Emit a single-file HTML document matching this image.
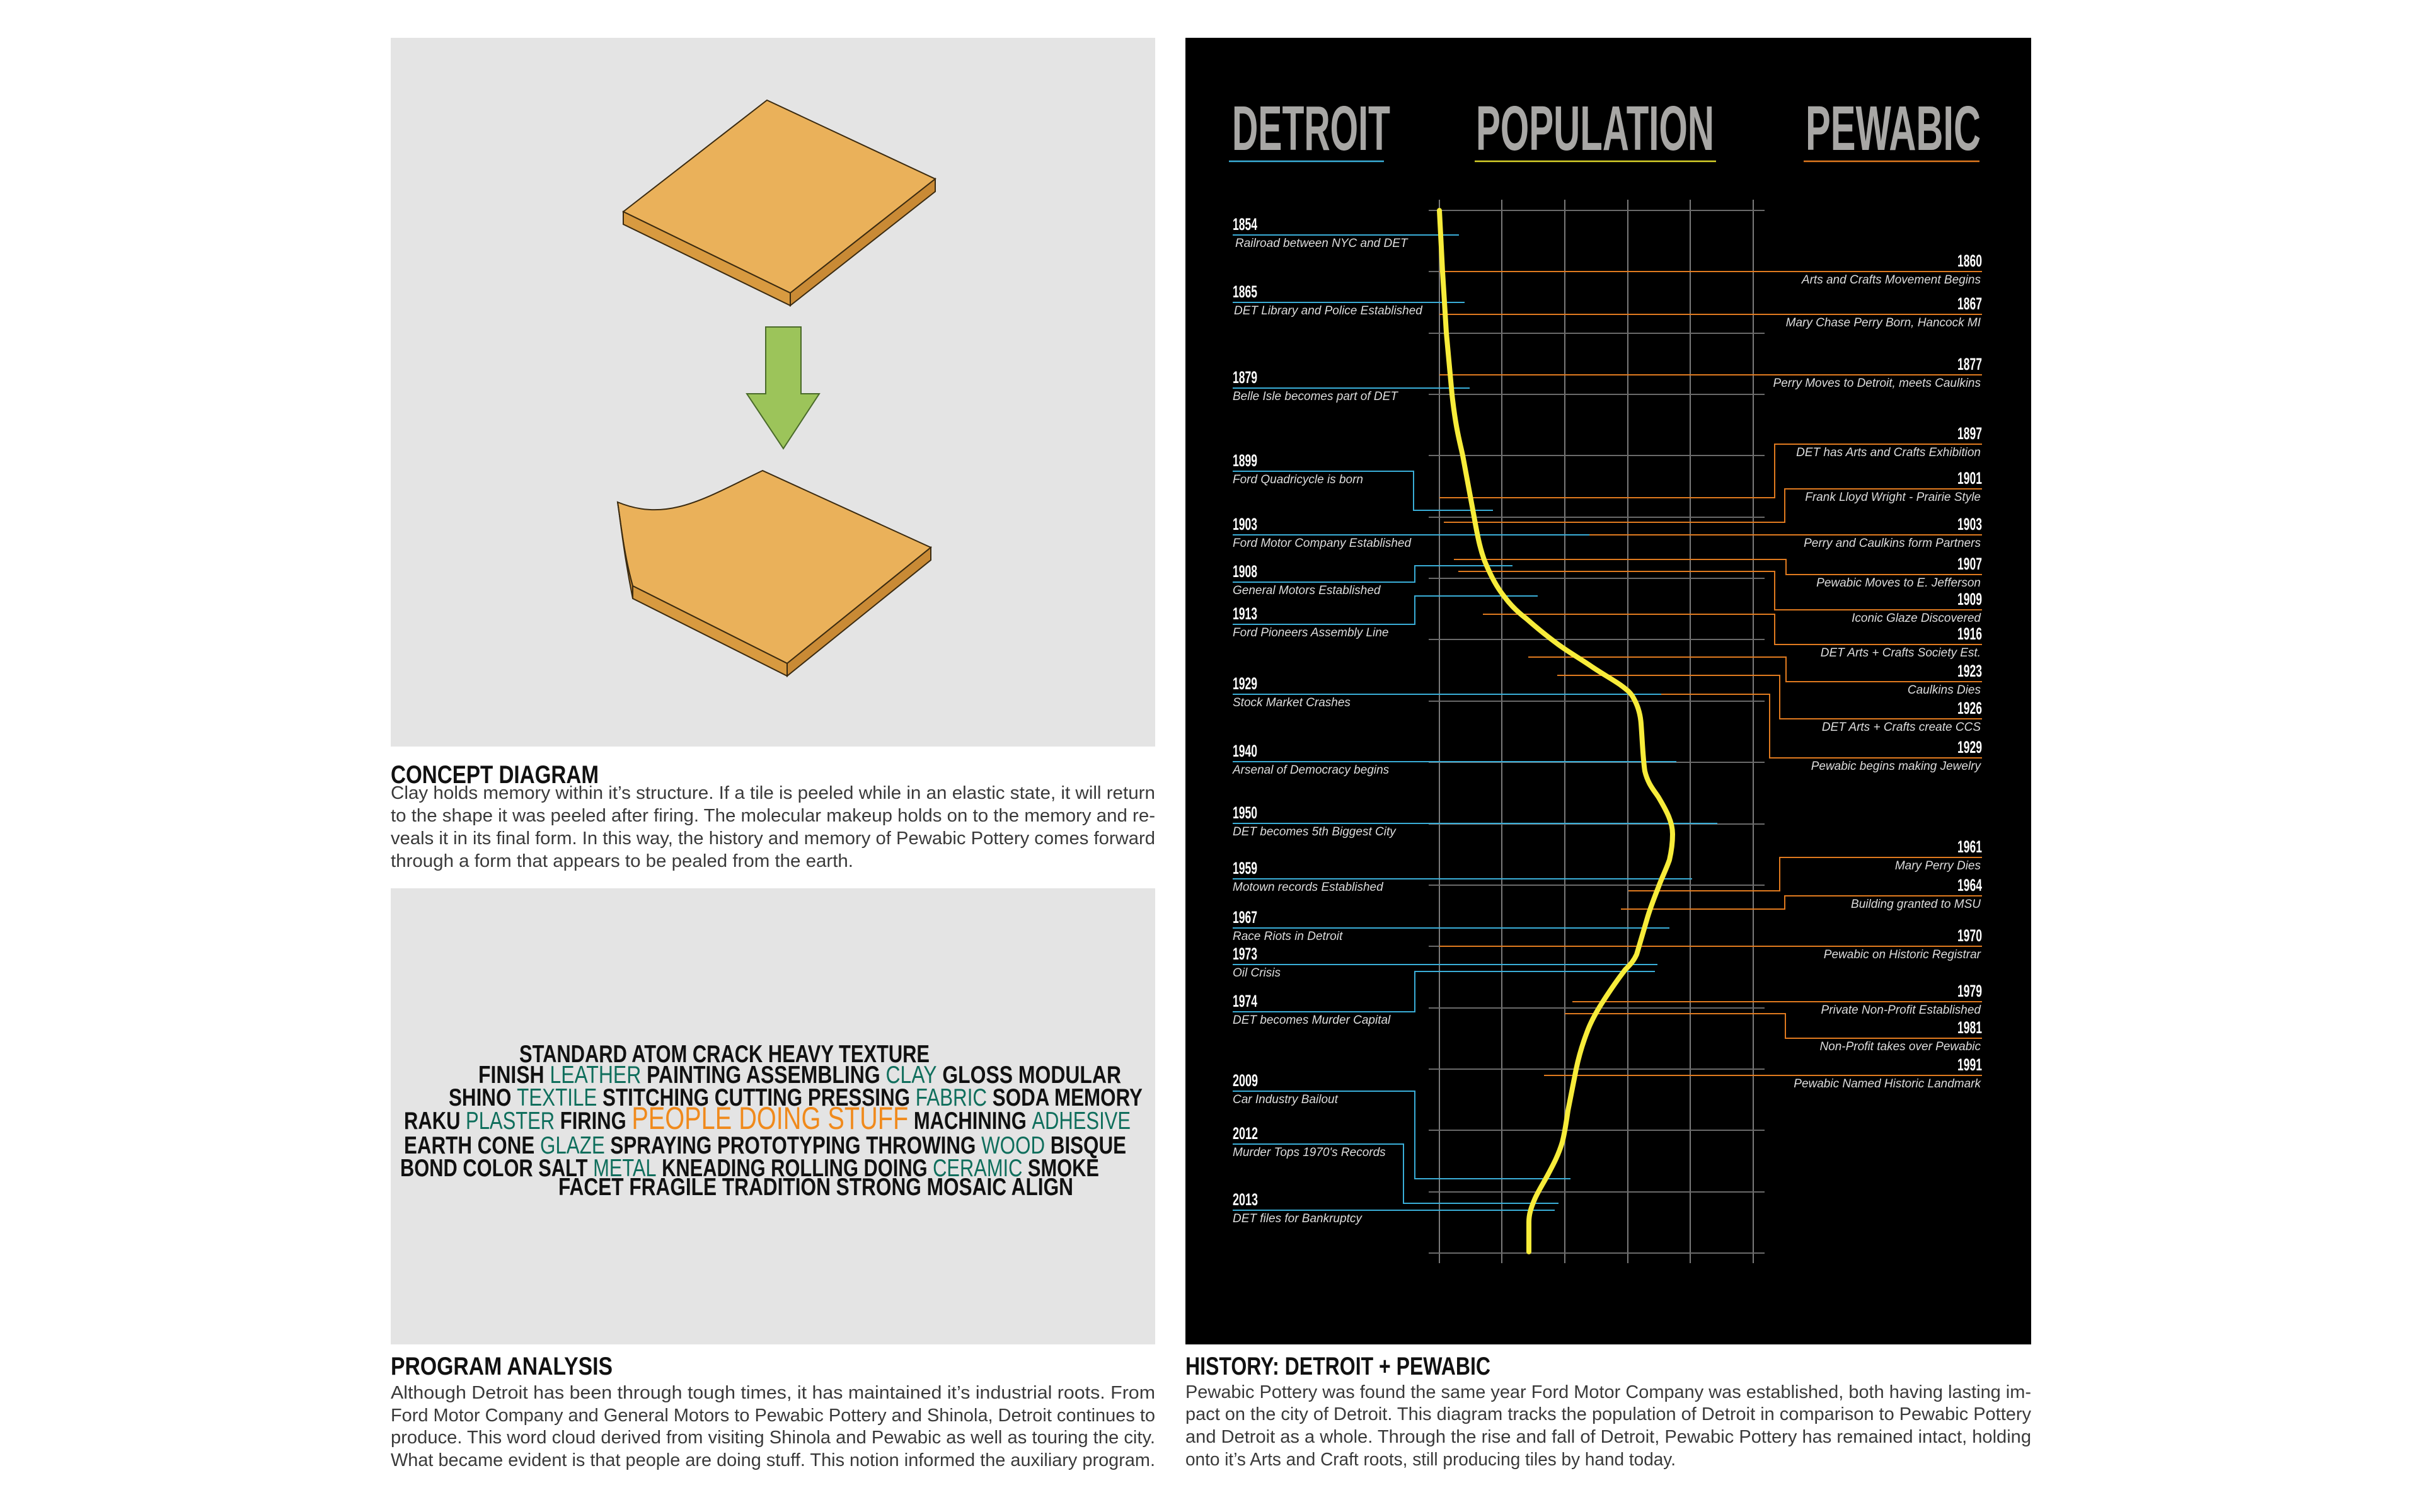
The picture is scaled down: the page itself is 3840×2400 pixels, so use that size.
<!DOCTYPE html>
<html><head><meta charset="utf-8"><style>
html,body{margin:0;padding:0;background:#fff;}
svg{display:block;}
.b{font-family:"Liberation Sans",sans-serif;font-weight:300;fill:#3a3a3a;font-size:29px;}
.h{font-family:"Liberation Sans Narrow","Liberation Sans",sans-serif;font-weight:bold;fill:#111;font-size:40px;}
.w{font-family:"Liberation Sans Narrow","Liberation Sans",sans-serif;font-weight:bold;fill:#111;font-size:39px;}
.g{fill:#0f6e5c;font-weight:normal;}
.o{fill:#f08a1c;font-weight:normal;}
.t{font-family:"Liberation Sans Narrow","Liberation Sans",sans-serif;font-weight:bold;fill:#a8a7a5;font-size:100px;}
.y{font-family:"Liberation Sans Narrow","Liberation Sans",sans-serif;font-weight:bold;fill:#fff;font-size:27px;}
.d{font-family:"Liberation Sans",sans-serif;font-style:italic;fill:#ddd;font-size:19px;}
</style></head><body>
<svg width="3840" height="2400" viewBox="0 0 3840 2400" xmlns="http://www.w3.org/2000/svg">
<rect width="3840" height="2400" fill="#fff"/>
<!-- top-left panel -->
<rect x="620" y="60" width="1213" height="1125" fill="#e4e4e4"/>
<!-- top tile -->
<polygon points="989,336 1217,159 1484,284 1254,465" fill="#eab15a" stroke="#3a2a10" stroke-width="2"/>
<polygon points="989,336 1254,465 1254,485 989,356" fill="#d89a40" stroke="#3a2a10" stroke-width="2"/>
<polygon points="1254,465 1484,284 1484,304 1254,485" fill="#c98a35" stroke="#3a2a10" stroke-width="2"/>
<!-- arrow -->
<polygon points="1215,519 1271,519 1271,625 1300,625 1243,712 1185,625 1215,625" fill="#9cc45a" stroke="#4a6a2a" stroke-width="2"/>
<!-- bottom tile -->
<path d="M1004,930 C990,880 985,830 980,797 C1060,830 1120,790 1210,747 L1477,869 L1249,1053 Z" fill="#eab15a" stroke="#3a2a10" stroke-width="2"/>
<polygon points="1004,930 1249,1053 1249,1073 1004,950" fill="#d89a40" stroke="#3a2a10" stroke-width="2"/>
<polygon points="1249,1053 1477,869 1477,889 1249,1073" fill="#c98a35" stroke="#3a2a10" stroke-width="2"/>
<path d="M980,797 C985,830 990,880 1004,950 L1004,930 C990,880 985,830 980,797" fill="#c98a35" stroke="#3a2a10" stroke-width="2"/>

<!-- concept text -->
<text class="h" x="620" y="1243" textLength="330" lengthAdjust="spacingAndGlyphs">CONCEPT DIAGRAM</text>
<text class="b" x="620" y="1268" textLength="1213" lengthAdjust="spacingAndGlyphs">Clay holds memory within it’s structure. If a tile is peeled while in an elastic state, it will return</text>
<text class="b" x="620" y="1304" textLength="1213" lengthAdjust="spacingAndGlyphs">to the shape it was peeled after firing. The molecular makeup holds on to the memory and re-</text>
<text class="b" x="620" y="1340" textLength="1213" lengthAdjust="spacingAndGlyphs">veals it in its final form. In this way, the history and memory of Pewabic Pottery comes forward</text>
<text class="b" x="620" y="1376" textLength="734" lengthAdjust="spacingAndGlyphs">through a form that appears to be pealed from the earth.</text>

<!-- word cloud panel -->
<rect x="620" y="1410" width="1213" height="724" fill="#e4e4e4"/>
<text class="w" x="824" y="1686" textLength="651" lengthAdjust="spacingAndGlyphs">STANDARD ATOM CRACK  HEAVY TEXTURE</text>
<text class="w" x="759" y="1719" textLength="1020" lengthAdjust="spacingAndGlyphs">FINISH <tspan class="g">LEATHER</tspan> PAINTING ASSEMBLING <tspan class="g">CLAY</tspan> GLOSS  MODULAR</text>
<text class="w" x="712" y="1755" textLength="1101" lengthAdjust="spacingAndGlyphs">SHINO <tspan class="g">TEXTILE</tspan> STITCHING CUTTING PRESSING <tspan class="g">FABRIC</tspan> SODA MEMORY</text>
<text class="w" x="641" y="1792" textLength="1153" lengthAdjust="spacingAndGlyphs">RAKU <tspan class="g">PLASTER</tspan> FIRING  <tspan class="o" font-size="50">PEOPLE DOING STUFF</tspan> MACHINING <tspan class="g">ADHESIVE</tspan></text>
<text class="w" x="641" y="1831" textLength="1146" lengthAdjust="spacingAndGlyphs">EARTH CONE <tspan class="g">GLAZE</tspan> SPRAYING  PROTOTYPING  THROWING  <tspan class="g">WOOD</tspan> BISQUE</text>
<text class="w" x="635" y="1867" textLength="1109" lengthAdjust="spacingAndGlyphs">BOND COLOR SALT <tspan class="g">METAL</tspan> KNEADING ROLLING DOING <tspan class="g">CERAMIC</tspan> SMOKE</text>
<text class="w" x="886" y="1897" textLength="817" lengthAdjust="spacingAndGlyphs">FACET FRAGILE TRADITION  STRONG  MOSAIC  ALIGN</text>

<!-- program analysis -->
<text class="h" x="620" y="2182" textLength="352" lengthAdjust="spacingAndGlyphs">PROGRAM ANALYSIS</text>
<text class="b" x="620" y="2220" textLength="1213" lengthAdjust="spacingAndGlyphs">Although Detroit has been through tough times, it has maintained it’s industrial roots. From</text>
<text class="b" x="620" y="2256" textLength="1213" lengthAdjust="spacingAndGlyphs">Ford Motor Company and General Motors to Pewabic Pottery and Shinola, Detroit continues to</text>
<text class="b" x="620" y="2291" textLength="1213" lengthAdjust="spacingAndGlyphs">produce. This word cloud derived from visiting Shinola and Pewabic as well as touring the city.</text>
<text class="b" x="620" y="2327" textLength="1213" lengthAdjust="spacingAndGlyphs">What became evident is that people are doing stuff. This notion informed the auxiliary program.</text>

<!-- history -->
<text class="h" x="1881" y="2182" textLength="484" lengthAdjust="spacingAndGlyphs">HISTORY: DETROIT + PEWABIC</text>
<text class="b" x="1881" y="2219" textLength="1342" lengthAdjust="spacingAndGlyphs">Pewabic Pottery was found the same year Ford Motor Company was established, both having lasting im-</text>
<text class="b" x="1881" y="2254" textLength="1342" lengthAdjust="spacingAndGlyphs">pact on the city of Detroit. This diagram tracks the population of Detroit in comparison to Pewabic Pottery</text>
<text class="b" x="1881" y="2290" textLength="1342" lengthAdjust="spacingAndGlyphs">and Detroit as a whole. Through the rise and fall of Detroit, Pewabic Pottery has remained intact, holding</text>
<text class="b" x="1881" y="2326" textLength="778" lengthAdjust="spacingAndGlyphs">onto it’s Arts and Craft roots, still producing tiles by hand today.</text>

<!-- black panel -->
<rect x="1881" y="60" width="1342" height="2074" fill="#000"/>
<text class="t" x="1955" y="238" textLength="251" lengthAdjust="spacingAndGlyphs">DETROIT</text>
<text class="t" x="2342" y="238" textLength="378" lengthAdjust="spacingAndGlyphs">POPULATION</text>
<text class="t" x="2865" y="238" textLength="278" lengthAdjust="spacingAndGlyphs">PEWABIC</text>
<line x1="1950" y1="256" x2="2196" y2="256" stroke="#3aaed8" stroke-width="2.5"/>
<line x1="2340" y1="256" x2="2723" y2="256" stroke="#d8d22a" stroke-width="2.5"/>
<line x1="2862" y1="256" x2="3141" y2="256" stroke="#e07a1f" stroke-width="2.5"/>

<!-- grid -->
<g stroke="#7a7a7a" stroke-width="2">
<line x1="2284" y1="317" x2="2284" y2="2005"/>
<line x1="2383" y1="317" x2="2383" y2="2005"/>
<line x1="2483" y1="317" x2="2483" y2="2005"/>
<line x1="2583" y1="317" x2="2583" y2="2005"/>
<line x1="2682" y1="317" x2="2682" y2="2005"/>
<line x1="2782" y1="317" x2="2782" y2="2005"/>
</g>
<g stroke="#6a6a6a" stroke-width="2">
<line x1="2267" y1="334" x2="2800" y2="334"/>
<line x1="2267" y1="431" x2="2800" y2="431"/>
<line x1="2267" y1="529" x2="2800" y2="529"/>
<line x1="2267" y1="626" x2="2800" y2="626"/>
<line x1="2267" y1="723" x2="2800" y2="723"/>
<line x1="2267" y1="821" x2="2800" y2="821"/>
<line x1="2267" y1="918" x2="2800" y2="918"/>
<line x1="2267" y1="1015" x2="2800" y2="1015"/>
<line x1="2267" y1="1113" x2="2800" y2="1113"/>
<line x1="2267" y1="1210" x2="2800" y2="1210"/>
<line x1="2267" y1="1308" x2="2800" y2="1308"/>
<line x1="2267" y1="1405" x2="2800" y2="1405"/>
<line x1="2267" y1="1502" x2="2800" y2="1502"/>
<line x1="2267" y1="1600" x2="2800" y2="1600"/>
<line x1="2267" y1="1697" x2="2800" y2="1697"/>
<line x1="2267" y1="1794" x2="2800" y2="1794"/>
<line x1="2267" y1="1892" x2="2800" y2="1892"/>
<line x1="2267" y1="1989" x2="2800" y2="1989"/>
</g>

<!-- blue detroit lines -->
<g stroke="#3aaed8" stroke-width="2" fill="none">
<polyline points="1956,373 2315,373"/>
<polyline points="1956,480 2324,480"/>
<polyline points="1956,616 2332,616"/>
<polyline points="1956,748 2243,748 2243,810 2369,810"/>
<polyline points="1956,849 2522,849"/>
<polyline points="1956,924 2245,924 2245,898 2400,898"/>
<polyline points="1956,991 2245,991 2245,946 2440,946"/>
<polyline points="1956,1102 2639,1102"/>
<polyline points="1956,1209 2660,1209"/>
<polyline points="1956,1307 2725,1307"/>
<polyline points="1956,1395 2685,1395"/>
<polyline points="1956,1473 2649,1473"/>
<polyline points="1956,1531 2630,1531"/>
<polyline points="1956,1606 2245,1606 2245,1542 2626,1542"/>
<polyline points="1956,1732 2245,1732 2245,1871 2492,1871"/>
<polyline points="1956,1816 2227,1816 2227,1910 2473,1910"/>
<polyline points="1956,1921 2467,1921"/>
</g>
<!-- orange pewabic lines -->
<g stroke="#e07a1f" stroke-width="2" fill="none">
<polyline points="2284,431 3145,431"/>
<polyline points="2284,499 3145,499"/>
<polyline points="2284,595 3145,595"/>
<polyline points="3145,705 2816,705 2816,790 2284,790"/>
<polyline points="3145,776 2832,776 2832,829 2291,829"/>
<polyline points="2522,849 3145,849"/>
<polyline points="3145,912 2834,912 2834,888 2307,888"/>
<polyline points="3145,968 2816,968 2816,907 2314,907"/>
<polyline points="3145,1023 2816,1023 2816,975 2353,975"/>
<polyline points="3145,1082 2834,1082 2834,1043 2425,1043"/>
<polyline points="3145,1141 2824,1141 2824,1072 2471,1072"/>
<polyline points="3145,1203 2808,1203 2808,1102 2636,1102"/>
<polyline points="3145,1361 2824,1361 2824,1414 2584,1414"/>
<polyline points="3145,1422 2832,1422 2832,1443 2572,1443"/>
<polyline points="2284,1502 3145,1502"/>
<polyline points="2495,1590 3145,1590"/>
<polyline points="3145,1648 2833,1648 2833,1609 2483,1609"/>
<polyline points="2450,1707 3145,1707"/>
</g>

<!-- population curve -->
<path d="M2284,334 L2289,431 L2295,528 L2304,626 C2310,680 2316,700 2321,723 L2339,820 C2346,860 2350,875 2356,891 C2366,915 2375,932 2387,947 C2398,962 2410,973 2422,982 C2440,998 2455,1010 2474,1024 C2492,1037 2510,1047 2527,1059 C2545,1071 2558,1078 2571,1087 C2582,1095 2588,1100 2592,1108 C2600,1122 2603,1135 2604,1149 C2606,1175 2607,1205 2610,1224 C2615,1245 2625,1255 2632,1266 C2645,1288 2654,1305 2654,1324 C2654,1340 2652,1352 2649,1365 C2643,1382 2637,1393 2632,1407 C2625,1425 2619,1440 2614,1457 L2597,1515 C2592,1526 2586,1532 2579,1539 C2565,1557 2555,1572 2544,1589 C2533,1606 2524,1622 2518,1639 C2510,1660 2505,1678 2501,1697 L2488,1763 C2485,1783 2483,1798 2479,1813 C2473,1833 2465,1848 2457,1863 C2448,1880 2440,1892 2435,1904 C2429,1918 2426,1928 2426,1940 L2426,1987" fill="none" stroke="#f7ec3a" stroke-width="8" stroke-linecap="round" stroke-linejoin="round"/>

<!-- left labels -->
<g>
<text class="y" x="1956" y="365" textLength="39" lengthAdjust="spacingAndGlyphs">1854</text><text class="d" x="1960" y="392">Railroad between NYC and DET</text>
<text class="y" x="1956" y="472" textLength="39" lengthAdjust="spacingAndGlyphs">1865</text><text class="d" x="1958" y="499">DET Library and Police Established</text>
<text class="y" x="1956" y="608" textLength="39" lengthAdjust="spacingAndGlyphs">1879</text><text class="d" x="1956" y="635">Belle Isle becomes part of DET</text>
<text class="y" x="1956" y="740" textLength="39" lengthAdjust="spacingAndGlyphs">1899</text><text class="d" x="1956" y="767">Ford Quadricycle is born</text>
<text class="y" x="1956" y="841" textLength="39" lengthAdjust="spacingAndGlyphs">1903</text><text class="d" x="1956" y="868">Ford Motor Company Established</text>
<text class="y" x="1956" y="916" textLength="39" lengthAdjust="spacingAndGlyphs">1908</text><text class="d" x="1956" y="943">General Motors Established</text>
<text class="y" x="1956" y="983" textLength="39" lengthAdjust="spacingAndGlyphs">1913</text><text class="d" x="1956" y="1010">Ford Pioneers Assembly Line</text>
<text class="y" x="1956" y="1094" textLength="39" lengthAdjust="spacingAndGlyphs">1929</text><text class="d" x="1956" y="1121">Stock Market Crashes</text>
<text class="y" x="1956" y="1201" textLength="39" lengthAdjust="spacingAndGlyphs">1940</text><text class="d" x="1956" y="1228">Arsenal of Democracy begins</text>
<text class="y" x="1956" y="1299" textLength="39" lengthAdjust="spacingAndGlyphs">1950</text><text class="d" x="1956" y="1326">DET becomes 5th Biggest City</text>
<text class="y" x="1956" y="1387" textLength="39" lengthAdjust="spacingAndGlyphs">1959</text><text class="d" x="1956" y="1414">Motown records Established</text>
<text class="y" x="1956" y="1465" textLength="39" lengthAdjust="spacingAndGlyphs">1967</text><text class="d" x="1956" y="1492">Race Riots in Detroit</text>
<text class="y" x="1956" y="1523" textLength="39" lengthAdjust="spacingAndGlyphs">1973</text><text class="d" x="1956" y="1550">Oil Crisis</text>
<text class="y" x="1956" y="1598" textLength="39" lengthAdjust="spacingAndGlyphs">1974</text><text class="d" x="1956" y="1625">DET becomes Murder Capital</text>
<text class="y" x="1956" y="1724" textLength="40" lengthAdjust="spacingAndGlyphs">2009</text><text class="d" x="1956" y="1751">Car Industry Bailout</text>
<text class="y" x="1956" y="1808" textLength="40" lengthAdjust="spacingAndGlyphs">2012</text><text class="d" x="1956" y="1835">Murder Tops 1970's Records</text>
<text class="y" x="1956" y="1913" textLength="40" lengthAdjust="spacingAndGlyphs">2013</text><text class="d" x="1956" y="1940">DET files for Bankruptcy</text>
</g>
<!-- right labels -->
<g text-anchor="end">
<text class="y" x="3145" y="423" textLength="39" lengthAdjust="spacingAndGlyphs">1860</text><text class="d" x="3143" y="450">Arts and Crafts Movement Begins</text>
<text class="y" x="3145" y="491" textLength="39" lengthAdjust="spacingAndGlyphs">1867</text><text class="d" x="3143" y="518">Mary Chase Perry Born, Hancock MI</text>
<text class="y" x="3145" y="587" textLength="39" lengthAdjust="spacingAndGlyphs">1877</text><text class="d" x="3143" y="614">Perry Moves to Detroit, meets Caulkins</text>
<text class="y" x="3145" y="697" textLength="39" lengthAdjust="spacingAndGlyphs">1897</text><text class="d" x="3143" y="724">DET has Arts and Crafts Exhibition</text>
<text class="y" x="3145" y="768" textLength="39" lengthAdjust="spacingAndGlyphs">1901</text><text class="d" x="3143" y="795">Frank Lloyd Wright - Prairie Style</text>
<text class="y" x="3145" y="841" textLength="39" lengthAdjust="spacingAndGlyphs">1903</text><text class="d" x="3143" y="868">Perry and Caulkins form Partners</text>
<text class="y" x="3145" y="904" textLength="39" lengthAdjust="spacingAndGlyphs">1907</text><text class="d" x="3143" y="931">Pewabic Moves to E. Jefferson</text>
<text class="y" x="3145" y="960" textLength="39" lengthAdjust="spacingAndGlyphs">1909</text><text class="d" x="3143" y="987">Iconic Glaze Discovered</text>
<text class="y" x="3145" y="1015" textLength="39" lengthAdjust="spacingAndGlyphs">1916</text><text class="d" x="3143" y="1042">DET Arts + Crafts Society Est.</text>
<text class="y" x="3145" y="1074" textLength="39" lengthAdjust="spacingAndGlyphs">1923</text><text class="d" x="3143" y="1101">Caulkins Dies</text>
<text class="y" x="3145" y="1133" textLength="39" lengthAdjust="spacingAndGlyphs">1926</text><text class="d" x="3143" y="1160">DET Arts + Crafts create CCS</text>
<text class="y" x="3145" y="1195" textLength="39" lengthAdjust="spacingAndGlyphs">1929</text><text class="d" x="3143" y="1222">Pewabic begins making Jewelry</text>
<text class="y" x="3145" y="1353" textLength="39" lengthAdjust="spacingAndGlyphs">1961</text><text class="d" x="3143" y="1380">Mary Perry Dies</text>
<text class="y" x="3145" y="1414" textLength="39" lengthAdjust="spacingAndGlyphs">1964</text><text class="d" x="3143" y="1441">Building granted to MSU</text>
<text class="y" x="3145" y="1494" textLength="39" lengthAdjust="spacingAndGlyphs">1970</text><text class="d" x="3143" y="1521">Pewabic on Historic Registrar</text>
<text class="y" x="3145" y="1582" textLength="39" lengthAdjust="spacingAndGlyphs">1979</text><text class="d" x="3143" y="1609">Private Non-Profit Established</text>
<text class="y" x="3145" y="1640" textLength="39" lengthAdjust="spacingAndGlyphs">1981</text><text class="d" x="3143" y="1667">Non-Profit takes over Pewabic</text>
<text class="y" x="3145" y="1699" textLength="39" lengthAdjust="spacingAndGlyphs">1991</text><text class="d" x="3143" y="1726">Pewabic Named Historic Landmark</text>
</g>
</svg>
</body></html>
